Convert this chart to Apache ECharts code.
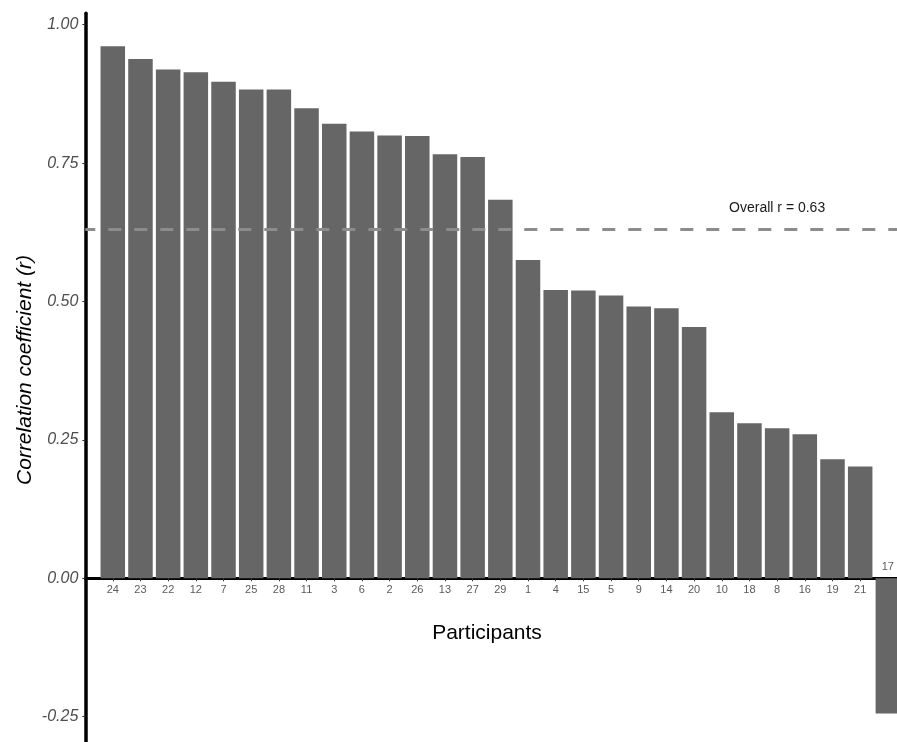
<!DOCTYPE html>
<html>
<head>
<meta charset="utf-8">
<script src="https://cdn.jsdelivr.net/npm/echarts@6/dist/echarts.min.js"></script>
<style>
  html, body { margin: 0; padding: 0; background: #ffffff; }
  #chart { width: 897px; height: 742px; }
</style>
</head>
<body>
<div id="chart"></div>
<script>
// Participants ordered by their individual correlation coefficient
const participants = ['24', '23', '22', '12', '7', '25', '28', '11', '3', '6', '2', '26', '13', '27', '29',
  '1', '4', '15', '5', '9', '14', '20', '10', '18', '8', '16', '19', '21', '17'];
const correlations = [0.961, 0.938, 0.919, 0.914, 0.897, 0.883, 0.883, 0.849, 0.821, 0.807, 0.800, 0.799, 0.766, 0.761, 0.684,
  0.575, 0.521, 0.520, 0.511, 0.491, 0.488, 0.454, 0.300, 0.280, 0.271, 0.260, 0.215, 0.202, -0.244];
const yTicks = [-0.25, 0, 0.25, 0.5, 0.75, 1.0];
const overallR = 0.63;
const overallLabelY = 0.668;

const Y_MIN = -0.2957;
const Y_MAX = 1.0206;
const GRID_TOP = 13.3;
const CHART_H = 742;

const xPositions = participants.map((_, i) => i);
// Positive bars get their name below the zero line; negative bars carry it above the line instead
const belowLinePositions = xPositions.filter(i => correlations[i] >= 0);
const barData = correlations.map((v, i) => (v < 0 ? { value: [i, v], label: { show: true } } : [i, v]));

// The x axis sits on the zero line: shift it up from the grid bottom by the height of the negative part
const plotH = CHART_H - GRID_TOP;
const zeroShift = plotH * (0 - Y_MIN) / (Y_MAX - Y_MIN);

const FONT = 'Liberation Sans, Arial, sans-serif';

const chart = echarts.init(document.getElementById('chart'), null, { renderer: 'canvas' });

chart.setOption({
  animation: false,
  backgroundColor: '#ffffff',
  grid: { left: 85.3, right: 0, top: GRID_TOP, bottom: 0, containLabel: false, outerBoundsMode: 'none' },
  xAxis: {
    type: 'value',
    min: -0.993,
    max: 28.33,
    offset: -zeroShift,
    splitLine: { show: false },
    axisLine: { show: true, onZero: false, lineStyle: { color: '#000000', width: 3 } },
    axisTick: { show: true, length: 3, customValues: xPositions, lineStyle: { color: '#333333', width: 1 } },
    axisLabel: {
      customValues: belowLinePositions,
      formatter: v => participants[Math.round(v)] ?? '',
      color: '#5a5a5a',
      fontFamily: FONT,
      fontSize: 11,
      margin: 6
    }
  },
  yAxis: {
    type: 'value',
    min: Y_MIN,
    max: Y_MAX,
    splitLine: { show: false },
    axisLine: { show: true, onZero: false, lineStyle: { color: '#000000', width: 3.5 } },
    axisTick: { show: true, length: 3, customValues: yTicks, lineStyle: { color: '#333333', width: 1 } },
    axisLabel: {
      customValues: yTicks,
      formatter: v => v.toFixed(2),
      color: '#4d4d4d',
      fontStyle: 'italic',
      fontFamily: FONT,
      fontSize: 16,
      margin: 7
    }
  },
  series: [{
    type: 'bar',
    data: barData,
    barWidth: 24.5,
    itemStyle: { color: '#666666' },
    clip: true,
    z: 2,
    label: {
      show: false,
      position: 'top',
      distance: 6,
      formatter: p => participants[p.dataIndex],
      color: '#5a5a5a',
      fontFamily: FONT,
      fontSize: 11
    },
    markLine: {
      silent: true,
      symbol: ['none', 'none'],
      label: { show: false },
      lineStyle: { color: '#8c8c8c', width: 3, type: [13, 13], dashOffset: 3 },
      data: [{ yAxis: overallR }]
    },
    markPoint: {
      silent: true,
      symbol: 'circle',
      symbolSize: 0,
      data: [{
        coord: [24, overallLabelY],
        label: {
          show: true,
          formatter: 'Overall r = ' + overallR.toFixed(2),
          color: '#1a1a1a',
          fontFamily: FONT,
          fontSize: 14,
          position: 'inside'
        }
      }]
    }
  }],
  graphic: [
    {
      type: 'text',
      x: 25,
      y: 370,
      rotation: Math.PI / 2,
      style: {
        text: 'Correlation coefficient (r)',
        font: 'italic 21px "Liberation Sans", Arial, sans-serif',
        fill: '#000000',
        align: 'center',
        verticalAlign: 'middle'
      }
    },
    {
      type: 'text',
      x: 487,
      y: 633,
      style: {
        text: 'Participants',
        font: '21px "Liberation Sans", Arial, sans-serif',
        fill: '#000000',
        align: 'center',
        verticalAlign: 'middle'
      }
    }
  ]
});
</script>
</body>
</html>
